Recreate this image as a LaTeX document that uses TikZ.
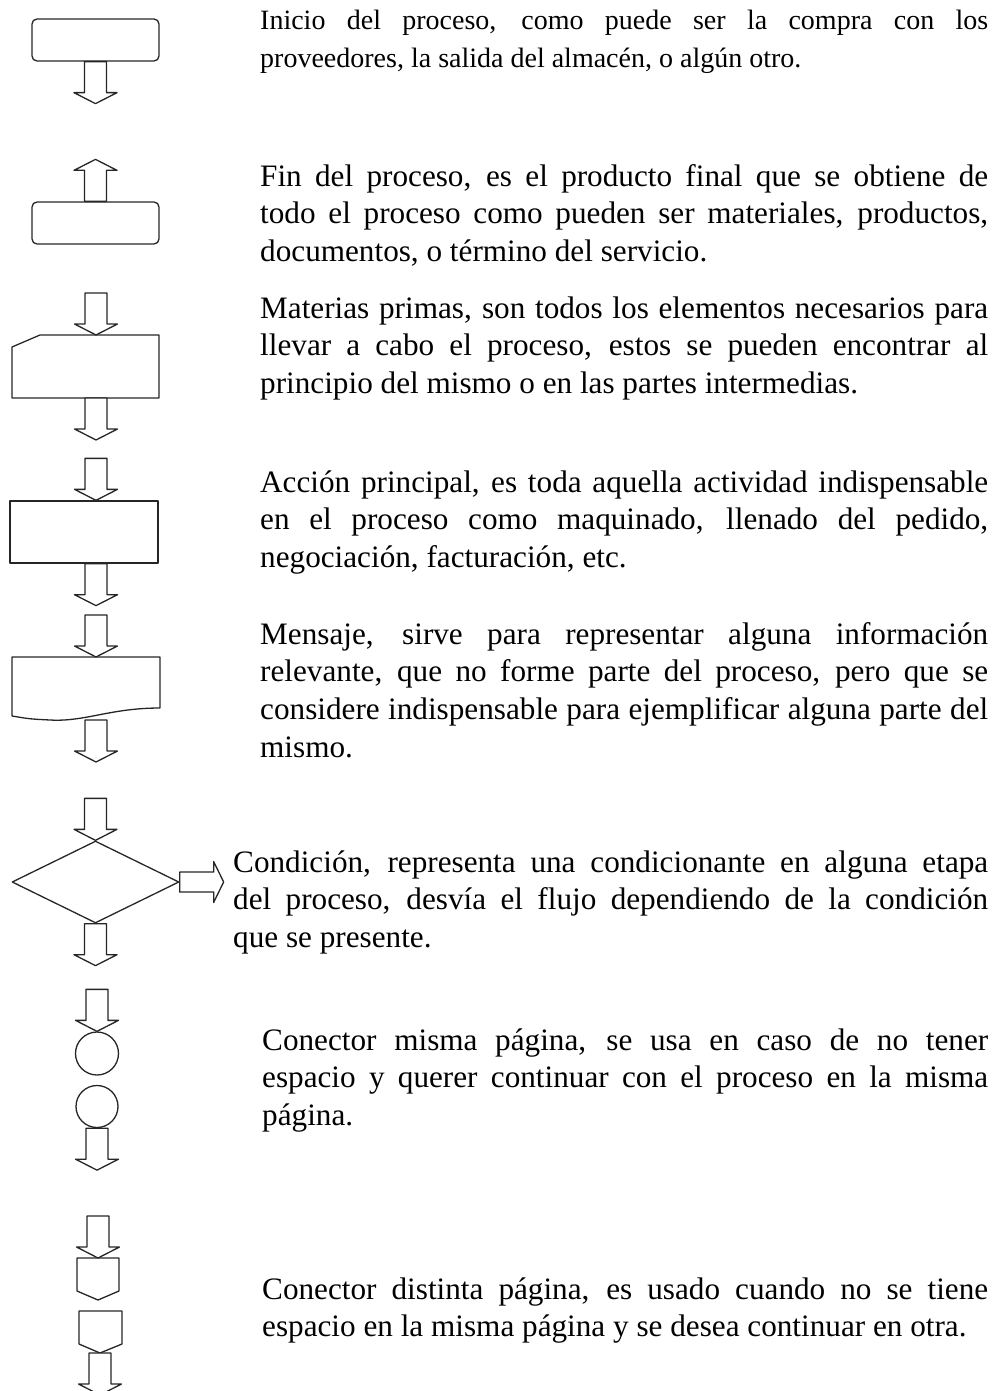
\documentclass[tikz,border=0pt]{standalone}
\usepackage{fontspec}
\setmainfont{Liberation Serif}
\usetikzlibrary{shapes.geometric}
\hyphenpenalty=10000
\exhyphenpenalty=10000
\tolerance=9999
\hbadness=10000
\tikzset{
  shape line/.style={draw=black!85, line width=1.3pt, line join=round},
  termbox/.style={shape line, rectangle, rounded corners=5pt, minimum width=127pt, minimum height=42pt, inner sep=0pt},
  actbox/.style={shape line, rectangle, minimum width=148pt, minimum height=62pt, inner sep=0pt},
  condbox/.style={shape line, diamond, minimum width=167pt, minimum height=82pt, inner sep=0pt},
  connbox/.style={shape line, circle, minimum size=43pt, inner sep=0pt},
  paratext/.style={anchor=base west, inner sep=0pt, text width=728pt, align=justify,
    font=\fontsize{31.2}{37.8}\selectfont},
  firsttext/.style={paratext, font=\fontsize{28}{38}\selectfont},
  pics/outarrow/.style={code={\draw[shape line, fill=white] (-11,0)--(-11,31)--(-21.5,31)--(0,42)--(21.5,31)--(11,31)--(11,0)--cycle;}},
  pics/inarrow/.style={code={\draw[shape line, fill=white] (-11,-42)--(-11,-11)--(-21.5,-11)--(0,0)--(21.5,-11)--(11,-11)--(11,-42)--cycle;}},
  pics/uparrow/.style={code={\draw[shape line, fill=white] (-11,0)--(-11,-31)--(-21.5,-31)--(0,-42)--(21.5,-31)--(11,-31)--(11,0)--cycle;}},
  pics/rightarrow/.style={code={\draw[shape line, fill=white] (0,-10)--(34,-10)--(34,-20.5)--(44,0)--(34,20.5)--(34,10)--(0,10)--cycle;}},
}
\begin{document}
\begin{tikzpicture}[x=1pt, y=-1pt]
\useasboundingbox (0,0) rectangle (994,1391);
% 1 inicio
\node[termbox] (inicio) at (95.5,40) {};
\pic (a1) at (inicio.south) {outarrow};
% 2 fin
\node[termbox] (fin) at (95.5,223) {};
\pic (a2) at (fin.north) {uparrow};
% 3 materias primas
\coordinate (mp) at (96,335);
\draw[shape line] (12,347) -- (40,335) -- (159,335) -- (159,398) -- (12,398) -- cycle;
\coordinate (mpb) at (96,398);
\pic (a3) at (mp) {inarrow};
\pic (a4) at (mpb) {outarrow};
% 4 accion
\node[actbox] (accion) at (84,532) {};
\pic (a5) at (accion.north -| 96,0) {inarrow};
\pic (a6) at (accion.south -| 96,0) {outarrow};
% 5 mensaje
\coordinate (msg) at (96,657);
\coordinate (msgb) at (96,720);
\draw[shape line] (12,716) -- (12,657) -- (160,657) -- (160,708)
  .. controls (110,708) and (85,722) .. (50,720) .. controls (30,719) .. (12,716);
\pic (a7) at (msg) {inarrow};
\pic (a8) at (msgb) {outarrow};
% 6 condicion
\node[condbox] (cond) at (95.5,882) {};
\pic (a9) at (cond.north) {inarrow};
\pic (a10) at (cond.south) {outarrow};
\pic (a11) at (cond.east) {rightarrow};
% 7 conector misma pagina
\node[connbox] (c1) at (97,1053.5) {};
\node[connbox, minimum size=42pt] (c2) at (97,1106.5) {};
\pic (a12) at (c1.north) {inarrow};
\pic (a13) at (c2.south) {outarrow};
% 8 conector distinta pagina
\coordinate (p1) at (98,1258);
\coordinate (p2) at (100,1353);
\draw[shape line] (77,1258) -- (119,1258) -- (119,1291) -- (98,1300) -- (77,1291) -- cycle;
\draw[shape line] (79,1311) -- (122,1311) -- (122,1344) -- (100,1353) -- (79,1344) -- cycle;
\pic (a14) at (p1) {inarrow};
\pic (a15) at (p2) {outarrow};
% texts
\node[firsttext] (t1) at (260,30) {Inicio del proceso, como puede ser la compra con los\linebreak proveedores, la salida del almacén, o algún otro.};
\node[paratext] (t2) at (260,186) {Fin del proceso, es el producto final que se obtiene de\linebreak todo el proceso como pueden ser materiales, productos,\linebreak documentos, o término del servicio.};
\node[paratext] (t3) at (260,318) {Materias primas, son todos los elementos necesarios para\linebreak llevar a cabo el proceso, estos se pueden encontrar al\linebreak principio del mismo o en las partes intermedias.};
\node[paratext] (t4) at (260,492) {Acción principal, es toda aquella actividad indispensable\linebreak en el proceso como maquinado, llenado del pedido,\linebreak negociación, facturación, etc.};
\node[paratext] (t5) at (260,644) {Mensaje, sirve para representar alguna información\linebreak relevante, que no forme parte del proceso, pero que se\linebreak considere indispensable para ejemplificar alguna parte del\linebreak mismo.};
\node[paratext, text width=755pt] (t6) at (233,872) {Condición, representa una condicionante en alguna etapa\linebreak del proceso, desvía el flujo dependiendo de la condición\linebreak que se presente.};
\node[paratext, text width=726pt] (t7) at (262,1050) {Conector misma página, se usa en caso de no tener\linebreak espacio y querer continuar con el proceso en la misma\linebreak página.};
\node[paratext, text width=726pt] (t8) at (262,1299) {Conector distinta página, es usado cuando no se tiene\linebreak espacio en la misma página y se desea continuar en otra.};
\end{tikzpicture}
\end{document}
